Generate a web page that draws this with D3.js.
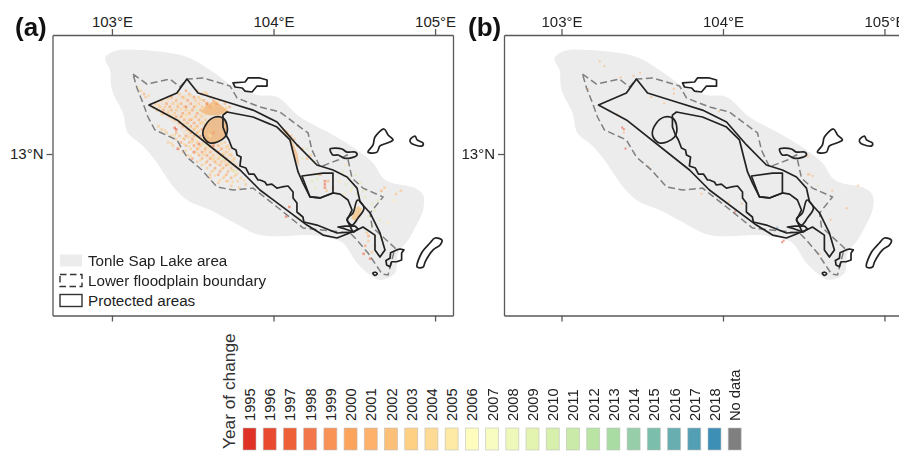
<!doctype html>
<html lang="en">
<head>
<meta charset="UTF-8">
<script src="https://d3js.org/d3.v7.min.js"></script>
<style>
html, body { margin: 0; padding: 0; background: #fff; overflow: hidden; }
svg { display: block; font-family: "Liberation Sans", Arial, sans-serif; }
.axis path, .axis line { stroke: #595959; stroke-width: 1.3px; }
.axis text { font-size: 15px; fill: #222; }
.cells { filter: blur(0.5px); }
</style>
<title>Tonle Sap year of change</title>
</head>
<body>
<svg id="chart" width="899" height="451"></svg>
<script>
'use strict';

var lonTicks = [103, 104, 105];
var latTicks = [13];

var legendYears = ["1995","1996","1997","1998","1999","2000","2001","2002","2003","2004","2005","2006",
  "2007","2008","2009","2010","2011","2012","2013","2014","2015","2016","2017","2018","No data"];
var legendColors = ["#df3126","#e8492f","#ee6038","#f2784c","#f99355","#fca45c","#fdb16b","#fdc078",
  "#fed083","#fedb95","#fee9a5","#fefdbd","#f9fcc1","#eef8b9","#e3f4b0","#d6f0ac","#c9eaa8","#b9e4a4",
  "#a8dca3","#95cea9","#7cbeac","#68adb0","#539fb4","#3e8fb5","#7f7f7f"];

// everything below is [lon, lat]
var lakeArea = [[102.957,13.594],[103.019,13.638],[103.173,13.644],[103.464,13.601],[103.625,13.508],
  [103.749,13.421],[103.898,13.365],[104.022,13.353],[104.164,13.229],[104.368,13.118],[104.517,13.025],
  [104.616,12.944],[104.678,12.851],[104.734,12.820],[104.876,12.789],[104.926,12.746],[104.926,12.653],
  [104.876,12.542],[104.833,12.467],[104.771,12.387],[104.752,12.263],[104.659,12.220],[104.598,12.251],
  [104.517,12.325],[104.430,12.449],[104.350,12.480],[104.226,12.498],[103.916,12.498],[103.749,12.579],
  [103.607,12.653],[103.464,12.715],[103.372,12.808],[103.316,12.889],[103.266,12.963],[103.186,13.056],
  [103.099,13.130],[103.068,13.254],[103.000,13.396],[102.988,13.520]];

var floodplain = [[103.130,13.495],[103.217,13.433],[103.359,13.464],[103.421,13.415],[103.464,13.464],
  [103.563,13.471],[103.731,13.421],[103.774,13.347],[103.916,13.291],[104.040,13.260],[104.214,13.130],
  [104.238,13.025],[104.288,12.920],[104.399,12.963],[104.455,12.994],[104.486,12.851],[104.554,12.789],
  [104.678,12.734],[104.598,12.635],[104.610,12.548],[104.752,12.418],[104.709,12.251],[104.672,12.257],
  [104.585,12.387],[104.517,12.467],[104.474,12.511],[104.183,12.542],[104.022,12.672],[103.873,12.789],
  [103.749,12.777],[103.650,12.796],[103.557,12.901],[103.464,12.981],[103.402,13.087],[103.266,13.149],
  [103.223,13.229],[103.192,13.316],[103.155,13.409]];

var protectedMain = [[103.229,13.303],[103.402,13.378],[103.464,13.464],[103.533,13.378],[103.731,13.316],
  [103.873,13.272],[104.022,13.198],[104.146,13.056],[104.269,12.932],[104.368,12.901],[104.455,12.858],
  [104.517,12.789],[104.536,12.703],[104.598,12.635],[104.659,12.511],[104.690,12.406],[104.659,12.362],
  [104.628,12.406],[104.628,12.498],[104.554,12.548],[104.517,12.529],[104.393,12.480],[104.307,12.498],
  [104.207,12.560],[103.916,12.777],[103.793,12.901],[103.402,13.211]];

var protectedLake = [[103.687,13.241],[103.712,13.260],[103.873,13.229],[104.022,13.167],[104.102,13.087],
  [104.133,12.963],[104.152,12.889],[104.183,12.820],[104.226,12.734],[104.288,12.728],[104.368,12.759],
  [104.412,12.752],[104.461,12.715],[104.486,12.653],[104.455,12.591],[104.492,12.517],[104.393,12.511],
  [104.269,12.560],[104.188,12.579],[104.182,12.610],[104.145,12.641],[104.145,12.697],[104.121,12.728],
  [104.121,12.765],[104.090,12.802],[104.052,12.796],[104.021,12.789],[103.990,12.814],[103.959,12.808],
  [103.947,12.827],[103.916,12.839],[103.904,12.839],[103.879,12.876],[103.848,12.876],[103.829,12.913],
  [103.792,12.926],[103.799,12.981],[103.774,12.994],[103.768,13.025],[103.743,13.037],[103.724,13.087],
  [103.706,13.118],[103.687,13.167]];

var protectedBox = [[104.176,12.864],[104.307,12.882],[104.368,12.882],[104.368,12.759],[104.288,12.728],[104.226,12.734]];
var protectedBlob = [[103.638,13.229],[103.588,13.192],[103.563,13.118],[103.607,13.068],[103.700,13.105],[103.712,13.180],[103.687,13.223]];
var protectedTip = [[104.520,12.715],[104.560,12.666],[104.523,12.604],[104.486,12.560],[104.455,12.598],[104.492,12.635]];
var protectedChain = [[104.399,12.548],[104.443,12.554],[104.505,12.554],[104.523,12.536],[104.498,12.517],[104.443,12.536]];
var islandNorth = [[103.749,13.440],[103.824,13.446],[103.842,13.471],[103.916,13.471],[103.960,13.458],[103.960,13.421],
  [103.898,13.421],[103.867,13.384],[103.824,13.390],[103.805,13.409],[103.762,13.415]];
var islandBig = [[104.585,13.012],[104.616,13.056],[104.628,13.105],[104.684,13.155],[104.709,13.118],[104.740,13.087],
  [104.703,13.068],[104.659,13.050],[104.641,13.012],[104.610,13.006]];
var islandSmall = [[104.845,13.087],[104.876,13.111],[104.889,13.087],[104.926,13.068],[104.920,13.050],[104.876,13.056],[104.851,13.068]];
var islandMid = [[104.350,13.031],[104.381,13.037],[104.424,13.031],[104.455,13.012],[104.505,13.012],[104.517,12.994],
  [104.474,12.975],[104.437,12.975],[104.399,12.994],[104.368,12.994]];
var islandLong = [[104.889,12.300],[104.920,12.393],[104.969,12.449],[105.000,12.480],[105.043,12.467],[105.031,12.437],
  [104.988,12.406],[104.938,12.331],[104.926,12.300]];
var islandEast = [[104.700,12.313],[104.696,12.340],[104.721,12.354],[104.725,12.389],[104.762,12.406],[104.783,12.412],
  [104.807,12.406],[104.793,12.387],[104.793,12.344],[104.762,12.333],[104.731,12.333],[104.721,12.302]];
var islandDot = [[104.615,12.262],[104.630,12.268],[104.642,12.258],[104.628,12.248]];

var protectedLines = [protectedMain, protectedLake, protectedBox, protectedChain, islandNorth, islandEast];
var protectedRound = [protectedBlob, protectedTip, islandBig, islandSmall, islandMid, islandLong, islandDot];

// denser patches in panel (a)
var washA = [[103.23,13.30],[103.40,13.38],[103.53,13.36],[103.72,13.28],[103.62,13.20],[103.58,13.12],[103.62,13.08],
  [103.72,13.05],[103.79,12.92],[103.79,12.87],[103.55,12.98],[103.40,13.18]];
var patchNorthA = [[103.58,13.30],[103.64,13.33],[103.73,13.26],[103.66,13.24],[103.60,13.24],[103.55,13.26]];
var stripEastA = [[104.04,13.17],[104.09,13.14],[104.15,13.00],[104.16,12.92],[104.13,12.98],[104.10,13.08]];
var patchTipA = [[104.52,12.68],[104.55,12.66],[104.51,12.58],[104.48,12.60]];

var cells1996A = [[103.38,13.17],[103.39,13.16],[103.40,13.04]];
var cells1997A = [[103.53,13.07],[103.45,13.30],[103.58,13.32],[104.31,12.84],[104.31,12.82],[104.31,12.80],[104.59,12.36],
  [104.09,12.68],[104.07,12.62],[103.62,13.06],[103.50,13.02],[104.55,12.39]];
var cells1999A = [[103.45,13.40],[103.55,13.38],[103.36,13.36],[103.50,13.36],[103.46,13.34],[103.62,13.34],[103.33,13.32],
  [103.48,13.32],[103.64,13.32],[103.35,13.30],[103.50,13.30],[103.31,13.28],[103.49,13.28],[103.43,13.26],[103.52,13.26],
  [103.42,13.24],[103.48,13.22],[103.41,13.20],[103.50,13.20],[103.48,13.18],[103.46,13.16],[103.55,13.16],[103.48,13.14],
  [103.62,13.14],[103.45,13.12],[103.54,13.12],[103.49,13.10],[103.42,13.08],[103.58,13.08],[103.50,13.06],[103.60,13.06],
  [103.57,13.04],[103.67,13.04],[103.55,13.02],[103.65,13.02],[103.58,13.00],[103.49,12.98],[103.60,12.98],[103.58,12.96],
  [103.60,12.94],[103.70,12.94],[103.63,12.92],[103.66,12.90],[103.65,12.88],[104.56,12.44],[104.58,12.50]];
var cells2000A = [[103.19,13.38],[103.47,13.38],[103.43,13.36],[103.60,13.36],[103.39,13.34],[103.56,13.34],[103.42,13.32],
  [103.58,13.32],[103.69,13.32],[103.40,13.30],[103.60,13.30],[103.72,13.30],[103.36,13.28],[103.54,13.28],[103.31,13.26],
  [103.47,13.26],[103.39,13.24],[103.51,13.24],[103.44,13.22],[103.53,13.22],[103.46,13.20],[103.43,13.18],[103.52,13.18],
  [103.50,13.16],[103.39,13.14],[103.52,13.14],[103.41,13.12],[103.50,13.12],[103.44,13.10],[103.56,13.10],[103.47,13.08],
  [103.63,13.08],[103.45,13.06],[103.65,13.06],[103.52,13.04],[103.62,13.04],[103.50,13.02],[103.60,13.02],[103.53,13.00],
  [103.68,13.00],[103.55,12.98],[103.70,12.98],[103.63,12.96],[103.72,12.96],[103.66,12.94],[103.68,12.92],[103.71,12.90],
  [103.70,12.88],[103.73,12.86],[104.10,13.12],[104.14,13.06],[104.28,12.88],[104.33,12.84],[104.66,12.78]];
var cells2002A = [[103.17,13.40],[103.52,13.40],[103.41,13.38],[103.58,13.38],[103.20,13.36],[103.53,13.36],[103.30,13.34],
  [103.51,13.34],[103.66,13.34],[103.26,13.32],[103.37,13.32],[103.53,13.32],[103.29,13.30],[103.32,13.30],[103.44,13.30],
  [103.55,13.30],[103.66,13.30],[103.27,13.28],[103.39,13.28],[103.45,13.28],[103.59,13.28],[103.63,13.28],[103.34,13.26],
  [103.38,13.26],[103.57,13.26],[103.35,13.24],[103.55,13.24],[103.38,13.22],[103.47,13.22],[103.57,13.22],[103.54,13.20],
  [103.28,13.18],[103.57,13.18],[103.30,13.16],[103.60,13.16],[103.33,13.14],[103.57,13.14],[103.36,13.12],[103.39,13.10],
  [103.60,13.10],[103.66,13.10],[103.34,13.08],[103.52,13.08],[103.69,13.08],[103.37,13.06],[103.54,13.06],[103.71,13.06],
  [103.48,13.04],[103.72,13.04],[103.43,13.02],[103.70,13.02],[103.46,13.00],[103.62,13.00],[103.73,13.00],[103.65,12.98],
  [103.75,12.98],[103.52,12.96],[103.67,12.96],[103.55,12.94],[103.75,12.94],[103.58,12.92],[103.73,12.92],[103.61,12.90],
  [103.60,12.88],[103.76,12.88],[103.68,12.86],[103.79,12.86],[103.71,12.84],[103.77,12.84],[103.60,12.86],[103.65,12.83],
  [103.70,12.84],[103.73,12.81],[103.78,12.80],[103.82,12.82],[104.12,13.10],[104.17,13.04],[104.20,12.98],[104.22,13.00],
  [104.32,12.78],[104.36,12.80],[104.52,12.62],[104.60,12.40],[104.68,12.80],[104.75,12.76],[104.78,12.78],[104.58,12.47],
  [104.57,12.52],[104.62,12.44]];
var cells2003A = [[103.22,13.37],[103.40,13.39],[103.48,13.37],[103.57,13.39],[103.34,13.35],[103.44,13.355],[103.54,13.345],
  [103.64,13.33],[103.28,13.31],[103.40,13.315],[103.51,13.305],[103.62,13.31],[103.70,13.295],[103.25,13.295],[103.34,13.275],
  [103.42,13.285],[103.47,13.27],[103.56,13.29],[103.30,13.255],[103.36,13.245],[103.45,13.25],[103.54,13.25],[103.37,13.23],
  [103.41,13.215],[103.49,13.225],[103.55,13.205],[103.44,13.195],[103.51,13.17],[103.56,13.195],[103.45,13.175],[103.32,13.155],
  [103.47,13.145],[103.53,13.15],[103.59,13.13],[103.38,13.125],[103.43,13.105],[103.47,13.115],[103.52,13.12],[103.58,13.095],
  [103.64,13.09],[103.36,13.075],[103.44,13.07],[103.49,13.085],[103.55,13.07],[103.67,13.075],[103.41,13.05],[103.47,13.055],
  [103.53,13.045],[103.59,13.05],[103.70,13.05],[103.45,13.03],[103.52,13.015],[103.57,13.025],[103.63,13.03],[103.68,13.01],
  [103.48,12.995],[103.56,13.005],[103.61,12.985],[103.66,12.995],[103.72,13.005],[103.54,12.97],[103.62,12.975],[103.69,12.965],
  [103.74,12.97],[103.57,12.95],[103.64,12.945],[103.71,12.945],[103.62,12.905],[103.67,12.915],[103.74,12.905],[103.63,12.875],
  [103.69,12.87],[103.75,12.87],[103.66,12.845],[103.74,12.835],[103.81,12.845]];
var cells2005A = [[103.16,13.42],[103.44,13.24],[103.60,13.12],[103.58,13.20],[103.52,13.10],[104.15,12.61],[104.44,12.94],
  [104.47,12.78],[104.52,12.72],[104.54,12.66],[104.40,12.84],[104.43,12.76],[104.60,12.56],[104.62,12.50],[104.66,12.48],
  [104.70,12.58],[104.74,12.72]];
var cells2010A = [[103.52,13.28],[103.47,13.18],[103.57,13.06],[103.67,12.98],[103.75,12.90],[104.24,12.96],[104.26,12.88],
  [104.23,12.84],[104.26,12.85],[104.25,12.80],[104.42,12.90],[104.46,12.86],[104.48,12.80],[104.50,12.88],[104.53,12.83],
  [104.56,12.74],[104.60,12.70],[104.62,12.66],[104.65,12.60],[104.55,12.78],[104.64,12.72],[104.58,12.62],[104.20,13.04],
  [104.17,12.98],[104.44,12.82],[104.51,12.76]];

var cells1996B = [[103.37,13.17],[103.38,13.16],[103.39,13.04],[104.07,12.65],[104.36,12.46],[104.37,12.47]];
var cells2001B = [[103.23,13.58],[103.26,13.55],[103.16,13.41],[103.44,13.49],[103.48,13.51],[103.36,13.48],[103.69,13.41],
  [103.69,13.38],[103.55,13.36],[103.63,13.32],[103.38,13.14],[103.34,13.25],[103.53,12.93],[103.97,13.27],[104.52,12.99],
  [104.52,12.88],[104.55,12.87],[104.53,12.88],[104.67,12.78],[104.76,12.67],[104.83,12.81],[104.66,12.60],[104.03,12.71],
  [104.11,12.70],[104.28,12.52],[104.59,12.39],[103.86,12.76]];
var cells2011B = [[104.58,12.81]];
var cells2017B = [[104.33,12.55]];

var cellSetsA = [["1996",cells1996A],["1997",cells1997A],["1999",cells1999A],["2000",cells2000A],["2002",cells2002A],["2003",cells2003A],["2005",cells2005A],["2010",cells2010A]];
var cellSetsB = [["1996",cells1996B],["2001",cells2001B],["2011",cells2011B],["2017",cells2017B]];

var legendRows = ["Tonle Sap Lake area", "Lower floodplain boundary", "Protected areas"];

var lakeColor = "#ececec", lineColor = "#222", dashColor = "#7f7f7f";

var svg = d3.select("#chart");
var yearColor = d3.scaleOrdinal().domain(legendYears).range(legendColors);
var lat = d3.scaleLinear().domain([12.0, 13.737]).range([315.5, 35]);

function drawPanel(label, labelX, lonDomain, lonRange, cellSets, withPatches) {
  var lon = d3.scaleLinear().domain(lonDomain).range(lonRange);
  var g = svg.append("g");
  var line = d3.line().x(function(d) { return lon(d[0]); }).y(function(d) { return lat(d[1]); });
  var smooth = d3.line().x(function(d) { return lon(d[0]); }).y(function(d) { return lat(d[1]); }).curve(d3.curveCatmullRomClosed);

  g.append("path").attr("d", smooth(lakeArea)).attr("fill", lakeColor);

  if (withPatches) {
    g.append("path").attr("d", line(washA) + "Z").attr("fill", "#fbc88f").attr("opacity", 0.2);
    g.append("path").attr("d", line(patchNorthA) + "Z").attr("fill", "#f0bf8e");
    g.append("path").attr("d", line(stripEastA) + "Z").attr("fill", "#f2c79a");
    g.append("path").attr("d", line(patchTipA) + "Z").attr("fill", "#f3cc9c");
    g.append("path").attr("d", smooth(protectedBlob)).attr("fill", "#ecbd8e");
  }

  var cellSize = withPatches ? 2.6 : 2;
  var cells = g.append("g").attr("class", "cells");
  cellSets.forEach(function(set) {
    cells.selectAll(null).data(set[1]).enter().append("rect")
      .attr("x", function(d) { return lon(d[0]); })
      .attr("y", function(d) { return lat(d[1]); })
      .attr("width", cellSize)
      .attr("height", cellSize)
      .attr("fill", yearColor(set[0]))
      .attr("opacity", withPatches ? 0.55 : 0.55);
  });

  g.append("path").attr("d", line(floodplain) + "Z")
    .attr("fill", "none").attr("stroke", dashColor).attr("stroke-width", 1.5).attr("stroke-dasharray", "7,3.5");

  protectedLines.forEach(function(shape) {
    g.append("path").attr("d", line(shape) + "Z")
      .attr("fill", "none").attr("stroke", lineColor).attr("stroke-width", 1.7).attr("stroke-linejoin", "round");
  });
  protectedRound.forEach(function(shape) {
    g.append("path").attr("d", smooth(shape))
      .attr("fill", "none").attr("stroke", lineColor).attr("stroke-width", 1.7);
  });

  // frame: the axes draw all four sides
  g.append("g").attr("class", "axis").attr("transform", "translate(0,35)")
    .call(d3.axisTop(lon).tickValues(lonTicks).tickFormat(function(d) { return d + "°E"; }).tickSize(6).tickSizeOuter(0).tickPadding(2));
  g.append("g").attr("class", "axis").attr("transform", "translate(0,315.5)")
    .call(d3.axisBottom(lon).tickValues(lonTicks).tickFormat("").tickSize(6).tickSizeOuter(0));
  g.append("g").attr("class", "axis").attr("transform", "translate(" + lonRange[0] + ",0)")
    .call(d3.axisLeft(lat).tickValues(latTicks).tickFormat(function(d) { return d + "°N"; }).tickSize(6).tickSizeOuter(0).tickPadding(3));
  g.append("g").attr("class", "axis").attr("transform", "translate(" + lonRange[1] + ",0)")
    .call(d3.axisRight(lat).tickValues([]).tickSizeOuter(0));

  svg.append("text").attr("x", labelX).attr("y", 36)
    .attr("font-size", 26).attr("font-weight", "bold").attr("fill", "#111").text(label);
}

drawPanel("(a)", 15, [102.632, 105.111], [52.5, 453], cellSetsA, true);
drawPanel("(b)", 468, [102.644, 105.121], [504, 904], cellSetsB, false);

// map legend in panel (a)
var rowY = d3.scalePoint().domain(legendRows).range([260.5, 300.5]);
var rows = svg.append("g").selectAll("g").data(legendRows).enter().append("g")
  .attr("transform", function(d) { return "translate(60," + rowY(d) + ")"; });
rows.append("rect").attr("x", 0).attr("y", -6).attr("width", 22).attr("height", 12)
  .attr("fill", function(d, i) { return i == 0 ? lakeColor : "none"; })
  .attr("stroke", function(d, i) { return i == 0 ? "none" : "#333"; })
  .attr("stroke-width", 1.4)
  .attr("stroke-dasharray", function(d, i) { return i == 1 ? "6.5,3.5" : null; });
rows.append("text").attr("x", 28).attr("y", 5.5)
  .attr("font-size", 15.2).attr("fill", "#222").text(function(d) { return d; });

// year legend
var legendX = d3.scalePoint().domain(legendYears).range([249.5, 734.7]);
var years = svg.append("g").selectAll("g").data(legendYears).enter().append("g")
  .attr("transform", function(d) { return "translate(" + legendX(d) + ",0)"; });
years.append("rect").attr("x", -6.5).attr("y", 428).attr("width", 13).attr("height", 22)
  .attr("fill", function(d) { return yearColor(d); })
  .attr("stroke", "#bdbdbd").attr("stroke-opacity", 0.7).attr("stroke-width", 0.8);
years.append("text")
  .attr("transform", "translate(5.5,421) rotate(-90)")
  .attr("font-size", 14.7).attr("fill", "#222").text(function(d) { return d; });

svg.append("text").attr("transform", "translate(235,449) rotate(-90)")
  .attr("font-size", 17.3).attr("fill", "#333").text("Year of change");
</script>
</body>
</html>
